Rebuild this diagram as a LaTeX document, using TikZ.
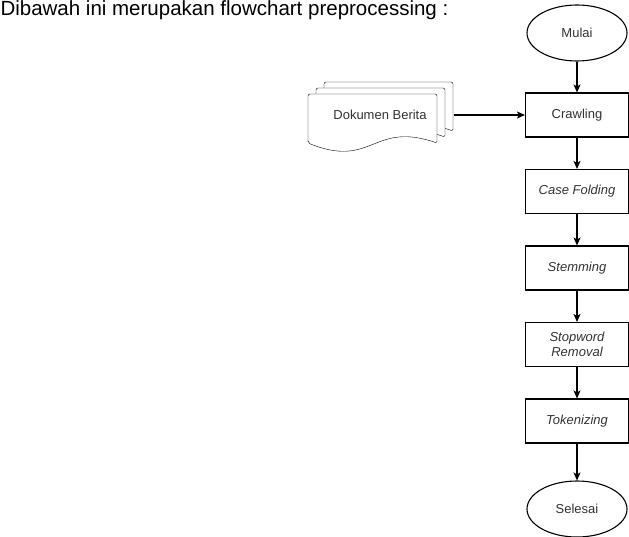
\documentclass[tikz,border=0pt]{standalone}
\usepackage{fontspec}
\setmainfont{Liberation Sans}
\usepackage{xcolor}
\usetikzlibrary{shapes,arrows,arrows.meta,positioning,backgrounds}

% one page of the stacked document shape
\newcommand{\dokpage}{(-72,28) -- (-72,-21) -- (57,-21) -- (57,28) .. controls (-7.5,6) and (-7.5,54) .. cycle}

\begin{document}
\begin{tikzpicture}[x=1pt, y=-1pt, node distance=76.5pt, line width=1.1pt,
    >={Stealth[length=8pt,width=7pt,inset=2pt]},
    font=\fontsize{13}{15.5}\selectfont]
    % Define styles
    \tikzstyle{process} = [rectangle, minimum width=103pt, minimum height=44pt, text centered, align=center, draw=black, fill=white, text=black!80]
    \tikzstyle{startend} = [ellipse, minimum width=100pt, minimum height=56pt, text centered, draw=black, fill=white, text=black!80]
    \tikzstyle{data} = [rectangle, minimum width=146pt, minimum height=66pt, inner sep=0pt, text centered, text=black!80]
    \tikzstyle{page} = [draw=black, fill=white, rounded corners=2pt]

    \useasboundingbox (0,0) rectangle (629,537);

    % Title
    \node[anchor=base west, inner sep=0pt, font=\fontsize{20.5}{24}\selectfont] (judul) at (0,16) {Dibawah ini merupakan flowchart preprocessing :};

    % Nodes
    \node[startend] (mulai) at (577,33) {Mulai};
    \node[process, below of=mulai, yshift=-5.5pt] (crawling) {Crawling};
    \node[process, below of=crawling] (casefolding) {\itshape Case Folding};
    \node[process, below of=casefolding] (stemming) {\itshape Stemming};
    \node[process, below of=stemming] (stopword) {\itshape Stopword\\\itshape Removal};
    \node[process, below of=stopword] (tokenizing) {\itshape Tokenizing};
    \node[startend, below of=tokenizing, yshift=-11.5pt] (selesai) {Selesai};
    \node[data, left of=crawling, xshift=-120.5pt] (dokumen) {Dokumen Berita};

    % Document pages behind the text
    \begin{scope}[on background layer, shift={(dokumen.center)}]
        \draw[page, xshift=16pt, yshift=12pt] \dokpage;
        \draw[page, xshift=8pt, yshift=6pt] \dokpage;
        \draw[page] \dokpage;
    \end{scope}

    % Connections
    \draw[->] (mulai) -- (crawling);
    \draw[->] (dokumen) -- (crawling);
    \draw[->] (crawling) -- (casefolding);
    \draw[->] (casefolding) -- (stemming);
    \draw[->] (stemming) -- (stopword);
    \draw[->] (stopword) -- (tokenizing);
    \draw[->] (tokenizing) -- (selesai);
\end{tikzpicture}
\end{document}
